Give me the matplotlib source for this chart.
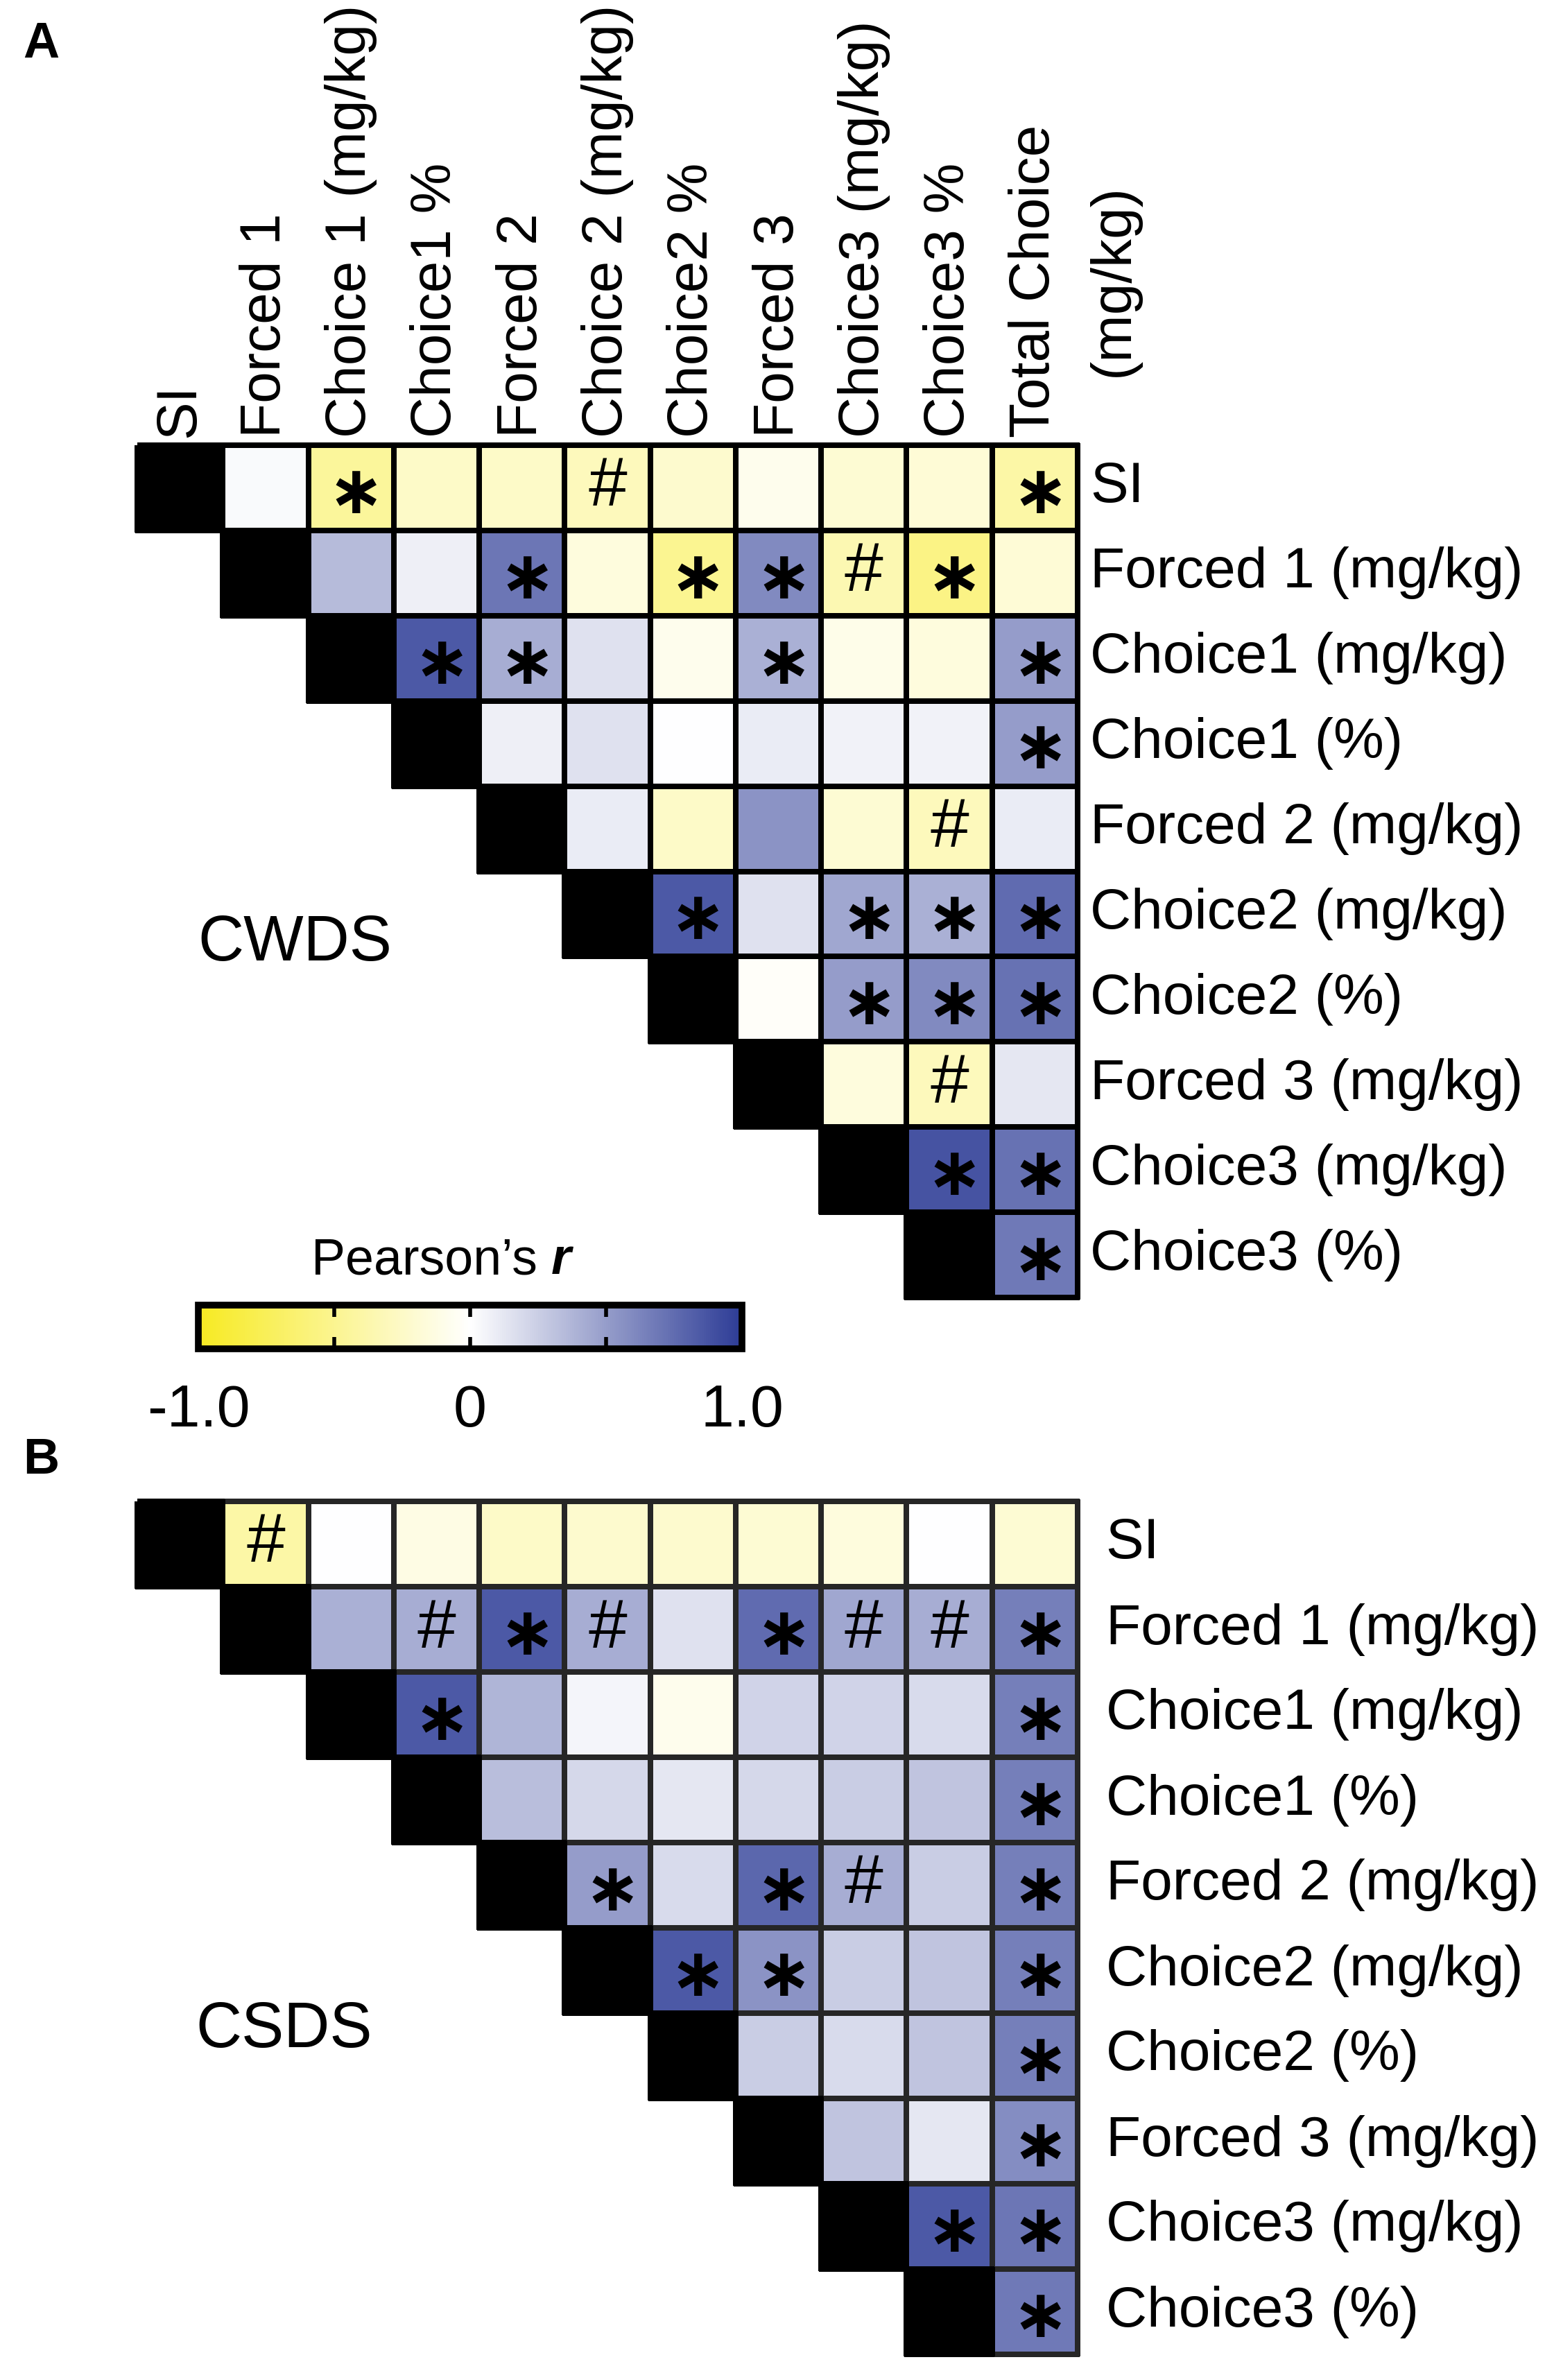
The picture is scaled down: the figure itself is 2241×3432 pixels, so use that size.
import matplotlib
matplotlib.use("Agg")
import matplotlib.pyplot as plt
import numpy as np
from matplotlib.colors import LinearSegmentedColormap, ListedColormap, Normalize
import matplotlib.cm as cm

plt.rcParams['font.family'] = ['Liberation Sans', 'DejaVu Sans']

W, H = 2241, 3432

# etiquetas
col_labels = ["SI", "Forced 1", "Choice 1 (mg/kg)", "Choice1 %", "Forced 2",
              "Choice 2 (mg/kg)", "Choice2 %", "Forced 3", "Choice3 (mg/kg)",
              "Choice3 %", "Total Choice"]
row_labels = ["SI", "Forced 1 (mg/kg)", "Choice1 (mg/kg)", "Choice1 (%)",
              "Forced 2 (mg/kg)", "Choice2 (mg/kg)", "Choice2 (%)",
              "Forced 3 (mg/kg)", "Choice3 (mg/kg)", "Choice3 (%)"]

# r de Pearson, fila i -> columnas i+1 .. 10
cwds_r = [
    [0.03, -0.45, -0.25, -0.25, -0.30, -0.22, -0.08, -0.20, -0.18, -0.40],
    [0.35, 0.08, 0.70, -0.15, -0.50, 0.60, -0.35, -0.55, -0.18],
    [0.85, 0.42, 0.15, -0.08, 0.40, -0.10, -0.15, 0.50],
    [0.08, 0.15, 0.00, 0.10, 0.07, 0.07, 0.50],
    [0.10, -0.25, 0.55, -0.20, -0.30, 0.10],
    [0.85, 0.15, 0.45, 0.40, 0.75],
    [-0.03, 0.50, 0.60, 0.72],
    [-0.15, -0.30, 0.12],
    [0.88, 0.72],
    [0.68],
]
cwds_sig = [
    ["", "*", "", "", "#", "", "", "", "", "*"],
    ["", "", "*", "", "*", "*", "#", "*", ""],
    ["*", "*", "", "", "*", "", "", "*"],
    ["", "", "", "", "", "", "*"],
    ["", "", "", "", "#", ""],
    ["*", "", "*", "*", "*"],
    ["", "*", "*", "*"],
    ["", "#", ""],
    ["*", "*"],
    ["*"],
]

csds_r = [
    [-0.40, 0.00, -0.12, -0.25, -0.22, -0.22, -0.20, -0.15, 0.00, -0.20],
    [0.40, 0.42, 0.85, 0.42, 0.15, 0.75, 0.45, 0.42, 0.65],
    [0.85, 0.38, 0.05, -0.08, 0.22, 0.22, 0.18, 0.65],
    [0.33, 0.20, 0.12, 0.20, 0.25, 0.30, 0.65],
    [0.50, 0.18, 0.78, 0.42, 0.25, 0.65],
    [0.85, 0.55, 0.25, 0.30, 0.65],
    [0.25, 0.18, 0.30, 0.65],
    [0.30, 0.12, 0.58],
    [0.85, 0.70],
    [0.68],
]
csds_sig = [
    ["#", "", "", "", "", "", "", "", "", ""],
    ["", "#", "*", "#", "", "*", "#", "#", "*"],
    ["*", "", "", "", "", "", "", "*"],
    ["", "", "", "", "", "", "*"],
    ["*", "", "*", "#", "", "*"],
    ["*", "*", "", "", "*"],
    ["", "", "", "*"],
    ["", "", "*"],
    ["*", "*"],
    ["*"],
]

cmap = LinearSegmentedColormap.from_list("yw_bl", ["#f7ea22", "#ffffff", "#2d3c96"])
norm = Normalize(-1, 1)
black = ListedColormap(["black"])


def px_axes(fig, left, top, right, bottom):
    return fig.add_axes([left / W, 1 - bottom / H, (right - left) / W, (bottom - top) / H])


def panel(ax, rvals, sig, edge, label_gap):
    n_rows, n_cols = len(row_labels), len(col_labels)
    for i in range(n_rows):
        vals = np.array([rvals[i]])
        xs = np.arange(i + 1, n_cols + 1)
        q = ax.pcolormesh(xs, [i, i + 1], vals, cmap=cmap, norm=norm,
                          edgecolors=edge, linewidth=5.5)
        q.set_clip_on(False)
        d = ax.pcolormesh([i, i + 1], [i, i + 1], [[1]], cmap=black,
                          edgecolors="black", linewidth=5.5)
        d.set_clip_on(False)
        for k, s in enumerate(sig[i]):
            j = i + 1 + k
            if s == "*":
                # asterisco de operador: ya queda centrado en la celda
                ax.text(j + 0.56, i + 0.58, "\u2217", ha="center", va="center",
                        fontsize=70, fontweight="bold", family=["DejaVu Sans"])
            elif s == "#":
                ax.text(j + 0.5, i + 0.5, "#", ha="center", va="center",
                        fontsize=72)
        ax.text(n_cols + label_gap, i + 0.5, row_labels[i], ha="left",
                va="center", fontsize=59)
    ax.set_xlim(0, n_cols)
    ax.set_ylim(n_rows, 0)
    ax.axis("off")


fig = plt.figure(figsize=(W / 100, H / 100), dpi=100)

axA = px_axes(fig, 198, 642, 1554, 1871)
panel(axA, cwds_r, cwds_sig, "black", 0.15)
for j, lab in enumerate(col_labels):
    axA.text(j + 0.5, -0.09, lab, rotation=90, ha="center", va="bottom", fontsize=59)
axA.text(10 + 0.5 + 0.92, -1.94, "(mg/kg)", rotation=90, ha="center", va="center",
         fontsize=59)
axA.text(1.84, 5.85, "CWDS", ha="center", va="center", fontsize=66)

axB = px_axes(fig, 198, 2165, 1554, 3395)
panel(axB, csds_r, csds_sig, "#262626", 0.33)
axB.text(1.72, 6.2, "CSDS", ha="center", va="center", fontsize=66)

# barra de color
cax = px_axes(fig, 286, 1882, 1070, 1945)
cb = fig.colorbar(cm.ScalarMappable(norm=norm, cmap=cmap), cax=cax,
                  orientation="horizontal")
cb.outline.set_linewidth(7)
cb.set_ticks([-1, -0.5, 0, 0.5, 1])
cb.set_ticklabels(["-1.0", "", "0", "", "1.0"])
cax.tick_params(axis="x", direction="in", top=True, bottom=True, length=12,
                width=4, labelsize=62, pad=36)
fig.text(795 / W, 1 - 1818 / H, "Pearson\u2019s ", ha="right", va="center", fontsize=53)
fig.text(795 / W, 1 - 1818 / H, "r", ha="left", va="center", fontsize=53,
         fontweight="bold", style="italic")

fig.text(33 / W, 1 - 30 / H, "A", ha="left", va="top", fontsize=52, fontweight="bold")
fig.text(33 / W, 1 - 2072 / H, "B", ha="left", va="top", fontsize=52, fontweight="bold")

fig.savefig("out.png", dpi=100)
